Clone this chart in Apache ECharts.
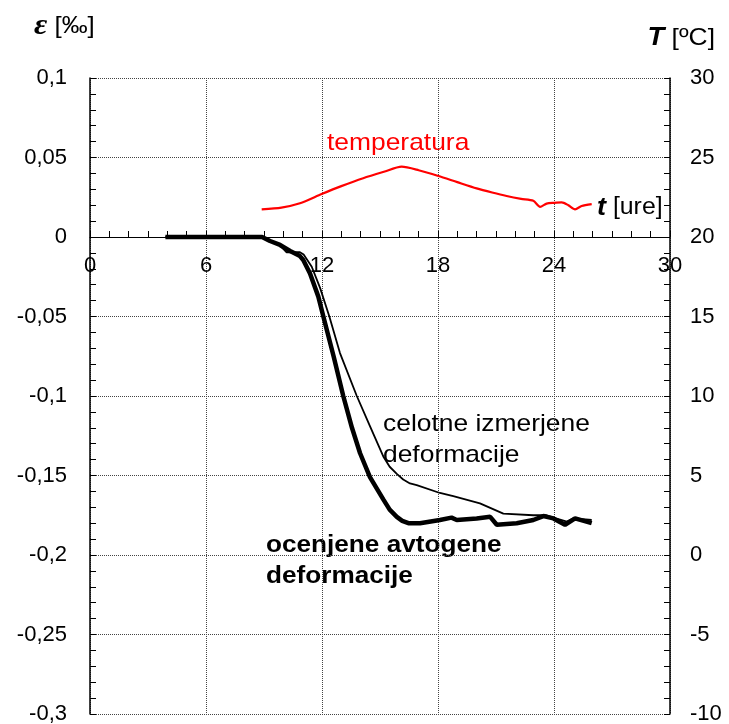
<!DOCTYPE html>
<html>
<head>
<meta charset="utf-8">
<script src="https://cdn.jsdelivr.net/npm/echarts@6/dist/echarts.min.js"></script>
<style>
  html, body { margin: 0; padding: 0; background: #fff; }
  #main { width: 729px; height: 724px; }
</style>
</head>
<body>
<div id="main"></div>
<script>
// cas [ure] in temperatura [°C]
var tempTime = [8.88, 9.9, 10.86, 11.98, 13.0, 14.13, 15.2, 16.12, 17.0, 18.02, 19.0, 20.0, 20.8, 21.55, 22.3, 22.93, 23.28, 23.62, 24.0, 24.4, 24.74, 25.09, 25.43, 25.95]
var tempVal = [21.74, 21.85, 22.12, 22.7, 23.2, 23.7, 24.1, 24.42, 24.2, 23.84, 23.45, 23.06, 22.8, 22.58, 22.4, 22.28, 21.9, 22.1, 22.15, 22.18, 22.0, 21.74, 21.95, 22.07]

// celotne izmerjene deformacije [‰]
var totalTime = [3.9, 8.9, 9.3, 9.8, 10.17, 10.86, 11.05, 11.47, 11.9, 12.38, 12.93, 13.8, 14.48, 15.17, 15.5, 15.87, 16.2, 16.55, 16.9, 18.1, 18.79, 20.17, 21.38, 22.93, 23.6, 24.1, 24.66, 25.0, 25.95]
var totalVal = [0, 0, -0.002, -0.005, -0.0096, -0.0096, -0.011, -0.0187, -0.032, -0.05, -0.073, -0.1, -0.119, -0.138, -0.1445, -0.149, -0.1525, -0.155, -0.156, -0.161, -0.163, -0.1675, -0.174, -0.175, -0.175, -0.177, -0.179, -0.177, -0.178]

// ocenjene avtogene deformacije [‰]
var autoTime = [3.9, 8.9, 9.31, 9.83, 10.35, 10.86, 11.03, 11.38, 11.81, 12.07, 12.6, 13.1, 13.55, 13.97, 14.48, 15.17, 15.5, 15.87, 16.15, 16.47, 17.07, 18.1, 18.7, 18.97, 20.0, 20.7, 21.04, 22.07, 22.93, 23.45, 23.97, 24.57, 25.09, 25.95]
var autoVal = [0, 0, -0.0025, -0.005, -0.0088, -0.012, -0.0145, -0.023, -0.0375, -0.05, -0.075, -0.1, -0.12, -0.136, -0.151, -0.165, -0.1715, -0.176, -0.1785, -0.18, -0.18, -0.178, -0.1765, -0.178, -0.177, -0.176, -0.181, -0.18, -0.178, -0.1755, -0.177, -0.181, -0.177, -0.18]

function pairs(xs, ys) {
  return xs.map(function (x, i) { return [x, ys[i]] })
}

var font = "Liberation Sans"
var gridDash = { color: "#444", type: [1, 1], width: 1 }

var chartDom = document.getElementById("main")
var myChart = echarts.init(chartDom)
var option = {
  animation: false,
  backgroundColor: "#fff",
  grid: [
    // glavni graf
    { left: 90, right: 59, top: 78, bottom: 10, outerBoundsMode: "none" },
    // zgornji del (od 0,1 do 0) - njegova spodnja os je casovna os na nicli
    { left: 90, right: 59, top: 78, height: 159, outerBoundsMode: "none" }
  ],
  xAxis: [
    {
      type: "value", gridIndex: 0,
      min: 0, max: 30, interval: 6,
      axisLine: { show: false },
      axisTick: { show: false },
      axisLabel: { show: false },
      splitLine: { show: true, lineStyle: gridDash }
    },
    {
      type: "value", gridIndex: 1,
      min: 0, max: 30, interval: 6,
      axisLine: { show: true, onZero: false, lineStyle: { color: "#000", width: 1.2 } },
      axisTick: { inside: true, length: 6, lineStyle: { color: "#000" } },
      minorTick: { show: true, splitNumber: 6, length: 6, lineStyle: { color: "#000" } },
      axisLabel: { margin: 18, fontSize: 22, fontFamily: font, color: "#000" },
      splitLine: { show: false }
    }
  ],
  yAxis: [
    {
      type: "value", gridIndex: 0,
      min: -0.3, max: 0.1, interval: 0.05,
      axisLine: { show: true, onZero: false, lineStyle: { color: "#000", width: 1.5 } },
      axisTick: { inside: true, length: 6, lineStyle: { color: "#000" } },
      minorTick: { show: true, splitNumber: 5, length: 6, lineStyle: { color: "#000" } },
      axisLabel: {
        margin: 23, fontSize: 22, fontFamily: font, color: "#000",
        formatter: function (v) { return String(+v.toFixed(2)).replace(".", ",") }
      },
      splitLine: { show: true, lineStyle: gridDash }
    },
    {
      type: "value", gridIndex: 0,
      position: "right",
      min: -10, max: 30, interval: 5,
      axisLine: { show: true, onZero: false, lineStyle: { color: "#000", width: 1.5 } },
      axisTick: { inside: true, length: 6, lineStyle: { color: "#000" } },
      minorTick: { show: true, splitNumber: 5, length: 6, lineStyle: { color: "#000" } },
      axisLabel: { margin: 20, fontSize: 22, fontFamily: font, color: "#000" },
      splitLine: { show: false }
    },
    {
      type: "value", gridIndex: 1,
      min: 0, max: 0.1, show: false
    }
  ],
  series: [
    {
      name: "temperatura",
      type: "line",
      yAxisIndex: 1,
      data: pairs(tempTime, tempVal),
      showSymbol: false,
      smooth: 0.25,
      lineStyle: { color: "#ff0000", width: 2.2 },
      z: 3
    },
    {
      name: "celotne izmerjene deformacije",
      type: "line",
      data: pairs(totalTime, totalVal),
      showSymbol: false,
      lineStyle: { color: "#000", width: 1.8 },
      z: 4
    },
    {
      name: "ocenjene avtogene deformacije",
      type: "line",
      data: pairs(autoTime, autoVal),
      showSymbol: false,
      lineStyle: { color: "#000", width: 4.5 },
      z: 3
    }
  ],
  graphic: [
    {
      type: "text", x: 34, y: 26, scaleX: 1.08,
      style: {
        text: "{e|ε} [‰]", fill: "#000", textVerticalAlign: "middle",
        font: "24px " + font,
        rich: { e: { fontFamily: "Liberation Serif", fontWeight: "bold", fontStyle: "italic", fontSize: 30 } }
      }
    },
    {
      type: "text", x: 715, y: 38, scaleX: 1.1,
      style: {
        text: "{t|T} [ºC]", fill: "#000", textAlign: "right", textVerticalAlign: "middle",
        font: "24px " + font,
        rich: { t: { fontFamily: font, fontWeight: "bold", fontStyle: "italic", fontSize: 25 } }
      }
    },
    {
      type: "text", x: 597, y: 208, scaleX: 1.08,
      style: {
        text: "{t|t} [ure]", fill: "#000", textVerticalAlign: "middle",
        font: "23px " + font,
        rich: { t: { fontFamily: font, fontWeight: "bold", fontStyle: "italic", fontSize: 25 } }
      }
    },
    {
      type: "text", x: 327, y: 143, scaleX: 1.1,
      style: { text: "temperatura", fill: "#ff0000", textVerticalAlign: "middle", font: "24px " + font }
    },
    {
      type: "text", x: 383, y: 440, scaleX: 1.1,
      style: { text: "celotne izmerjene\ndeformacije", fill: "#000", textVerticalAlign: "middle", font: "24px " + font, lineHeight: 31 }
    },
    {
      type: "text", x: 266, y: 561, scaleX: 1.09,
      style: { text: "ocenjene avtogene\ndeformacije", fill: "#000", textVerticalAlign: "middle", font: "bold 24px " + font, lineHeight: 31 }
    }
  ]
}
option && myChart.setOption(option)
</script>
</body>
</html>
